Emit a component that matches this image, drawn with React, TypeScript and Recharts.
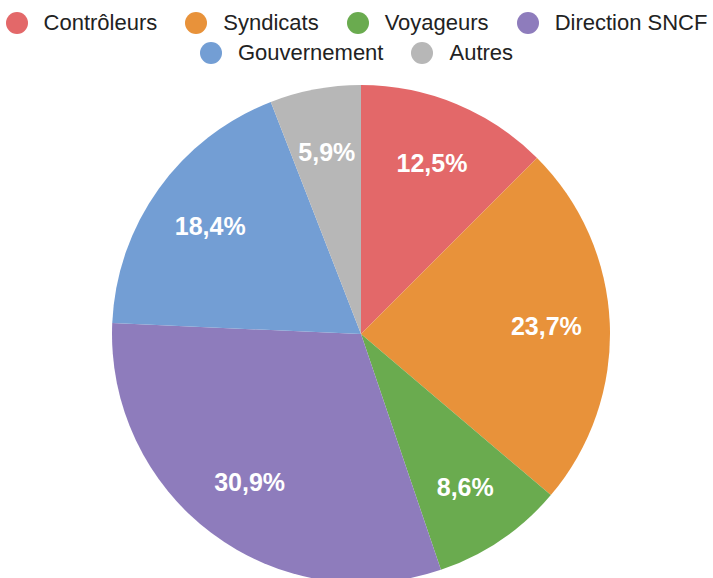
import { PieChart, Pie, Cell, Legend } from "recharts";

const CATEGORIES = ["Contrôleurs", "Syndicats", "Voyageurs", "Direction SNCF", "Gouvernement", "Autres"];
const SHARES = [12.5, 23.7, 8.6, 30.9, 18.4, 5.9];
const COLORS = ["#e36869", "#e8923a", "#6aab4f", "#8e7cbc", "#739ed4", "#b7b7b7"];

const data = CATEGORIES.map((name, i) => ({ name, value: SHARES[i] }));

const FONT = "'Liberation Sans', Arial, Helvetica, sans-serif";
const LEGEND_H = 70;
const TOP = 8;

const renderLabel = (props: any) => {
  const { cx, cy, midAngle, outerRadius, value } = props;
  const RAD = Math.PI / 180;
  const r = outerRadius * 0.745;
  const x = cx + r * Math.cos(-midAngle * RAD);
  const y = cy + r * Math.sin(-midAngle * RAD);
  return (
    <text
      x={x}
      y={y}
      fill="#ffffff"
      textAnchor="middle"
      dominantBaseline="central"
      fontFamily={FONT}
      fontWeight="bold"
      fontSize={25}
    >
      {value.toFixed(1).replace(".", ",")}%
    </text>
  );
};

const renderLegend = (props: any) => {
  // keep the series order, not the alphabetical one
  const items = [...(props.payload || [])].sort(
    (a: any, b: any) => CATEGORIES.indexOf(a.value) - CATEGORIES.indexOf(b.value)
  );
  return (
    <div
      style={{
        height: LEGEND_H,
        display: "flex",
        flexWrap: "wrap",
        justifyContent: "center",
        alignContent: "flex-start",
        columnGap: 28,
        fontFamily: FONT,
        fontSize: 22,
        color: "#222",
        lineHeight: "30px",
      }}
    >
      {items.map((entry: any) => (
        <div key={entry.value} style={{ display: "flex", alignItems: "center" }}>
          <span
            style={{
              display: "inline-block",
              width: 22,
              height: 22,
              borderRadius: "50%",
              background: entry.color,
              marginRight: 16,
            }}
          />
          <span>{entry.value}</span>
        </div>
      ))}
    </div>
  );
};

export default function App() {
  return (
    <div style={{ width: 713, height: 578, background: "#fff", overflow: "hidden" }}>
      <style>{`body{margin:0}`}</style>
      <PieChart width={713} height={578} margin={{ top: TOP, right: 0, bottom: 0, left: 0 }}>
        <Legend verticalAlign="top" align="center" content={renderLegend} />
        <Pie
          data={data}
          dataKey="value"
          nameKey="name"
          cx={361}
          cy={334 - TOP - LEGEND_H}
          outerRadius={249}
          startAngle={90}
          endAngle={-270}
          stroke="none"
          label={renderLabel}
          labelLine={false}
          isAnimationActive={false}
        >
          {data.map((d, i) => (
            <Cell key={d.name} fill={COLORS[i]} />
          ))}
        </Pie>
      </PieChart>
    </div>
  );
}
